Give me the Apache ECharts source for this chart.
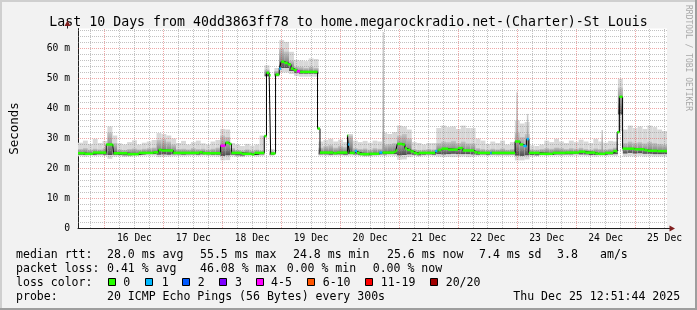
<!DOCTYPE html>
<html><head><meta charset="utf-8">
<script src="https://cdn.jsdelivr.net/npm/echarts@6/dist/echarts.min.js"></script>
<style>html,body{margin:0;padding:0;background:#f2f2f2}#c{width:697px;height:310px}</style>
</head><body><div id="c"></div>
<script>
// ---------- data ----------
// x values are hours since Dec 15 00:00
const dayLabels = ['16 Dec','17 Dec','18 Dec','19 Dec','20 Dec','21 Dec','22 Dec','23 Dec','24 Dec','25 Dec'];
const dayLabelHours = [36,60,84,108,132,156,180,204,228,252];
const yTickValues = [0,10,20,30,40,50,60];
const yTickLabels = ['0','10 m','20 m','30 m','40 m','50 m','60 m'];

const smokeHours = [14,16,18,20,22,24,26,28,30,32, 34,36,38,40,42,44,46,48,50,52,
  54,56,58,60,62,64,66,68,70,72, 74,76,78,80,82,84,86,88,90,92,
  94,96,98,100,102,104,106,108,110,112, 114,116,118,120,122,124,126,128,130,132,
  134,136,138,140,142,144,146,148,150,152, 154,156,158,160,162,164,166,168,170,172,
  174,176,178,180,182,184,186,188,190,192, 194,196,198,200,202,204,206,208,210,212,
  214,216,218,220,222,224,226,228,230,232, 234,236,238,240,242,244,246,248,250,252];
const smokeMax = [28.6,29.3,28.2,29.9,28.5,29.2,34.0,31.0,28.4,28.0,
  28.8,29.4,28.0,28.6,29.0,29.5,31.8,31.5,31.0,30.0,
  28.5,29.2,28.0,28.8,29.3,28.4,28.0,29.0,29.5,33.2,
  33.0,28.5,28.0,27.5,28.2,27.6,28.0,31.0,54.4,26.5,
  53.5,62.8,62.2,58.9,56.2,56.0,55.8,56.7,56.5,29.0,
  29.5,29.9,29.0,29.6,28.8,31.5,29.3,28.8,29.2,28.6,
  29.3,29.0,32.0,31.5,32.1,34.3,34.0,33.0,28.8,28.5,
  28.0,28.5,28.5,33.5,34.3,33.8,34.0,33.2,34.3,33.5,
  33.5,30.0,29.3,28.2,29.0,28.5,29.3,28.0,28.8,36.0,
  35.0,35.5,27.7,27.5,28.0,29.3,28.8,29.9,29.0,28.5,
  29.3,28.8,29.6,29.0,28.5,29.9,29.0,28.6,29.2,29.0,
  49.9,33.0,34.3,33.5,34.0,33.2,34.3,33.8,33.0,32.5];
const smokeDarkHigh = [26.5,26.8,26.3,26.6,26.4,26.8,32.0,28.5,26.4,26.2,
  26.5,26.7,26.4,26.6,26.8,27.0,29.5,29.8,29.0,28.0,
  26.5,26.6,26.4,26.8,26.5,26.6,26.3,26.6,27.0,31.0,
  30.5,26.8,26.2,26.0,26.4,26.0,26.3,26.0,53.0,25.8,
  52.5,60.0,59.0,56.0,54.0,53.8,53.5,53.9,53.5,27.0,
  27.5,27.8,27.0,27.6,27.2,31.0,26.8,26.5,26.7,26.3,
  26.8,26.6,28.0,28.2,28.5,31.0,31.5,30.0,26.5,26.2,
  26.3,26.5,26.4,28.5,29.0,28.8,29.2,28.5,29.0,28.4,
  28.4,26.8,26.5,26.3,26.6,26.4,26.7,26.3,26.5,32.0,
  30.5,31.5,26.4,26.3,26.5,26.8,26.6,27.0,26.8,26.5,
  26.8,26.6,26.9,26.5,26.3,26.7,26.5,26.4,26.6,27.0,
  47.0,28.5,29.0,28.6,28.8,28.4,28.9,28.5,28.2,28.0];
const smokeDarkLow = [24.6,24.5,24.7,24.6,24.7,24.6,24.5,24.6,24.5,24.4,
  24.4,24.5,24.6,24.7,24.8,24.8,24.6,24.7,24.6,24.7,
  24.7,24.6,24.7,24.7,24.6,24.7,24.7,24.6,24.6,24.2,
  24.4,24.6,24.4,24.3,24.6,24.6,24.5,24.7,50.8,24.6,
  51.0,53.5,53.5,52.5,51.8,51.6,51.6,51.6,51.6,24.7,
  24.7,24.6,24.7,24.7,24.6,24.8,24.7,24.6,24.4,24.4,
  24.5,24.7,24.7,24.8,24.8,24.4,24.5,24.7,24.6,24.4,
  24.6,24.7,24.6,24.8,24.7,24.8,24.9,24.8,24.8,24.8,
  24.7,24.6,24.7,24.6,24.7,24.7,24.7,24.7,24.7,24.3,
  24.2,24.4,24.5,24.4,24.5,24.6,24.5,24.7,24.7,24.7,
  24.7,24.8,24.7,24.7,24.5,24.5,24.6,24.6,24.7,24.8,
  38.0,25.0,25.2,25.0,25.1,24.9,24.9,24.8,24.8,24.8];
const smokeMin = [24.2,24.0,24.3,24.2,24.3,24.2,23.2,24.0,24.1,23.9,
  24.0,24.1,24.2,24.3,24.3,24.3,23.8,23.9,24.0,24.1,
  24.2,24.1,24.2,24.3,24.2,24.3,24.2,24.1,24.0,22.7,
  22.8,24.1,23.9,23.8,24.1,24.2,24.0,24.2,50.5,24.2,
  50.5,52.0,52.0,51.5,50.8,50.6,50.6,50.6,50.6,24.3,
  24.3,24.2,24.3,24.3,24.2,24.3,24.3,24.2,24.0,24.0,
  24.1,24.3,24.2,24.3,24.2,22.9,23.0,23.8,24.2,24.0,
  24.2,24.3,24.2,24.0,23.8,23.9,23.8,23.9,24.0,23.8,
  23.9,24.2,24.3,24.2,24.3,24.2,24.3,24.2,24.3,22.7,
  22.7,23.0,24.0,24.1,24.3,24.2,24.3,24.3,24.2,24.3,
  24.2,24.3,24.3,24.2,24.1,24.0,24.2,24.2,24.3,24.2,
  32.5,24.0,24.1,24.0,24.2,24.0,24.1,24.0,24.0,24.0];

// single narrow smoke spikes
const spikeHours = [137.4, 191.9, 196.2, 226.6];
const spikeLow   = [26.0, 30.0, 29.0, 25.6];
const spikeHigh  = [65.5, 45.4, 38.2, 32.8];

// median rtt (value holds from its hour until the next one) and loss class
const medianHours = [13.0,15.8,19.1,24.5,27.1,27.5,33.1,37.8,43.8,45.8,47.1,51.8,62.5,63.8,
  71.1,73.1,74.5,75.5,79.8,83.8,84.9,88.9,89.8,90.9,91.5,93.5,95.0,95.8,97.1,98.5,99.8,
  100.9,102.2,103.5,110.6,111.6,117.1,118.5,122.8,123.1,123.6,125.8,126.7,127.8,131.8,
  135.8,137.1,141.8,142.5,143.1,145.1,146.2,147.1,148.5,149.8,151.1,151.8,158.5,159.5,
  159.8,161.1,163.8,167.8,169.8,174.5,175.8,181.0,181.6,191.1,193.1,194.5,195.8,196.7,
  201.1,206.5,211.8,217.1,219.8,223.8,225.1,227.8,231.1,232.7,233.6,234.9,239.8,243.8,
  245.1,249.1];
const medianValues = [25.1,24.9,25.3,28.0,27.7,25.1,24.8,25.2,25.4,26.2,26.0,25.2,25.4,25.1,
  27.6,28.6,28.2,25.2,24.9,24.7,25.2,30.8,51.9,51.1,25.0,51.3,53.3,55.6,55.2,54.7,53.3,
  52.8,52.4,52.2,33.3,25.3,25.1,25.3,31.0,28.0,25.2,25.8,25.2,24.8,24.9,
  25.3,25.3,25.6,26.0,28.2,28.0,26.7,26.2,25.7,25.2,24.9,25.2,25.8,25.8,
  26.2,26.6,26.3,26.8,26.0,25.4,25.2,25.2,25.2,29.0,28.0,27.5,29.8,25.2,
  24.9,25.2,25.3,25.6,25.3,25.0,24.9,25.2,25.8,32.1,43.9,26.6,26.4,26.1,
  25.9,25.8];
const medianLoss = [0,0,0,0,0,0,0,0,0,0,0,0,0,0,
  4,0,0,0,0,0,0,0,0,0,0,0,1,0,0,0,0,
  0,4,0,0,0,0,0,0,1,0,1,0,0,0,
  1,0,0,0,0,0,0,0,0,0,0,0,1,0,
  0,0,0,0,0,0,0,1,0,0,0,1,1,0,
  0,0,0,0,0,0,0,0,0,0,0,0,0,0,
  0,0];

const lossLabels = ['0','1','2','3','4-5','6-10','11-19','20/20'];
const lossColors = ['#26ff00','#00b8ff','#0059ff','#7e00ff','#ff00ff','#ff5500','#ff0000','#a10000'];

const titleText = 'Last 10 Days from 40dd3863ff78 to home.megarockradio.net-(Charter)-St Louis';
const rttStats = ['28.0 ms avg','55.5 ms max','24.8 ms min','25.6 ms now','7.4 ms sd','3.8','am/s'];
const lossStats = ['0.41 % avg','46.08 % max','0.00 % min','0.00 % now'];
const probeText = '20 ICMP Echo Pings (56 Bytes) every 300s';
const dateText = 'Thu Dec 25 12:51:44 2025';

// ---------- layout / style ----------
const X_MIN = 13, X_MAX = 253, Y_MAX = 200 / 3;
const Y_GRID_STEP = 2, Y_MAJOR_STEP = 10, X_GRID_STEP = 6, X_MAJOR_STEP = 24;
const SMOKE_HALF = 1, SPIKE_HALF = 0.3;
const FONT = 'DejaVu Sans Mono';
const GRID_MINOR = 'rgba(143,143,143,0.55)';
const GRID_MAJOR = 'rgba(222,79,79,0.5)';

const chart = echarts.init(document.getElementById('c'), null, {renderer: 'canvas', width: 697, height: 310});

// grid line items: [vertical?, value, major?]
const gridData = [];
for (let v = Y_GRID_STEP; v < Y_MAX; v += Y_GRID_STEP) gridData.push([0, v, v % Y_MAJOR_STEP === 0 ? 1 : 0]);
for (let h = 18; h < X_MAX; h += X_GRID_STEP) gridData.push([1, h, h % X_MAJOR_STEP === 0 ? 1 : 0]);

const smokeData = smokeHours.map((h, i) => [h, smokeMin[i], smokeDarkLow[i], smokeDarkHigh[i], smokeMax[i]]);
const spikeData = spikeHours.map((h, i) => [h, spikeLow[i], spikeHigh[i]]);
const stepData = medianHours.map((h, i) => [h, medianValues[i]]);
stepData.push([X_MAX, medianValues[medianValues.length - 1]]);
const segData = medianHours.map((h, i) => [h, i + 1 < medianHours.length ? medianHours[i + 1] : X_MAX, medianValues[i], medianLoss[i]]);

function crisp(v) { return Math.round(v - 0.5) + 0.5; }
function gridItem(params, api) {
  const vertical = api.value(0) === 1, v = api.value(1), major = api.value(2) === 1;
  let shape;
  if (vertical) {
    const x = crisp(api.coord([v, 0])[0]);
    // start/end on whole pixels so the 1px dots stay sharp
    shape = {x1: x, y1: Math.floor(api.coord([v, 0])[1]), x2: x, y2: Math.floor(api.coord([v, Y_MAX])[1])};
  } else {
    const y = crisp(api.coord([X_MIN, v])[1]);
    shape = {x1: Math.round(api.coord([X_MIN, v])[0]), y1: y, x2: Math.round(api.coord([X_MAX, v])[0]), y2: y};
  }
  return {type: 'line', shape: shape, style: {stroke: major ? GRID_MAJOR : GRID_MINOR, lineWidth: 1, lineDash: [1, 1]}};
}
function smokeItem(params, api) {
  const t = api.value(0);
  const x0 = api.coord([t - SMOKE_HALF, 0])[0];
  const x1 = api.coord([t + SMOKE_HALF, 0])[0];
  const yMin = api.coord([t, api.value(1)])[1];
  const yLo = api.coord([t, api.value(2)])[1];
  const yHi = api.coord([t, api.value(3)])[1];
  const yMax = api.coord([t, api.value(4)])[1];
  return {type: 'group', children: [
    {type: 'rect', shape: {x: x0, y: yMax, width: x1 - x0, height: yMin - yMax}, style: {fill: '#d8d8d8'}},
    {type: 'rect', shape: {x: x0, y: yHi, width: x1 - x0, height: yLo - yHi},
     style: {fill: new echarts.graphic.LinearGradient(0, 0, 0, 1, [{offset: 0, color: '#c4c4c4'}, {offset: 0.6, color: '#8c8c8c'}, {offset: 1, color: '#4c4c4c'}])}}
  ]};
}
function spikeItem(params, api) {
  const t = api.value(0);
  const x0 = api.coord([t - SPIKE_HALF, 0])[0];
  const x1 = api.coord([t + SPIKE_HALF, 0])[0];
  const yLo = api.coord([t, api.value(1)])[1];
  const yHi = api.coord([t, api.value(2)])[1];
  return {type: 'rect', shape: {x: x0, y: yHi, width: x1 - x0, height: yLo - yHi},
    style: {fill: new echarts.graphic.LinearGradient(0, 0, 0, 1, [{offset: 0, color: '#d0d0d0'}, {offset: 1, color: '#9a9a9a'}])}};
}
function segItem(params, api) {
  const p0 = api.coord([api.value(0), api.value(2)]);
  const p1 = api.coord([api.value(1), api.value(2)]);
  return {type: 'rect', shape: {x: p0[0], y: p0[1] - 1.25, width: p1[0] - p0[0], height: 2.5},
    style: {fill: lossColors[api.value(3)]}};
}

// legend graphics
const graphics = [];
function txt(x, y, s, size, extra) {
  graphics.push(Object.assign({type: 'text', x: x, y: y, z: 100, silent: true,
    style: {text: s, fill: '#000', font: size + 'px "' + FONT + '"', textVerticalAlign: 'middle'}}, extra || {}));
}
// frame
graphics.push({type: 'rect', shape: {x: 0, y: 0, width: 697, height: 2}, style: {fill: '#cfcfcf'}, z: 100});
graphics.push({type: 'rect', shape: {x: 0, y: 0, width: 2, height: 310}, style: {fill: '#cfcfcf'}, z: 100});
graphics.push({type: 'rect', shape: {x: 0, y: 308, width: 697, height: 2}, style: {fill: '#9e9e9e'}, z: 100});
graphics.push({type: 'rect', shape: {x: 695, y: 0, width: 2, height: 310}, style: {fill: '#9e9e9e'}, z: 100});
// axis extensions and arrows
graphics.push({type: 'line', shape: {x1: 67.5, y1: 28.5, x2: 67.5, y2: 23}, style: {stroke: '#1f1f1f', lineWidth: 1}, z: 100});
graphics.push({type: 'line', shape: {x1: 667, y1: 228.5, x2: 672, y2: 228.5}, style: {stroke: '#1f1f1f', lineWidth: 1}, z: 100});
graphics.push({type: 'polygon', shape: {points: [[67.5, 20.5], [64.5, 26], [70.5, 26]]}, style: {fill: '#801f1f'}, z: 101});
graphics.push({type: 'polygon', shape: {points: [[675, 228.5], [669.5, 225.5], [669.5, 231.5]]}, style: {fill: '#801f1f'}, z: 101});
// watermark
graphics.push({type: 'text', x: 688, y: 5, rotation: -Math.PI / 2, z: 100, silent: true,
  style: {text: 'RRDTOOL / TOBI OETIKER', fill: '#a8a8a8', font: '8px "' + FONT + '"', textVerticalAlign: 'middle'}});
// legend rows
const LF = 11.55;
txt(16, 254.5, 'median rtt:', LF);
[107, 200, 293, 387, 479, 557, 600].forEach((x, i) => txt(x, 254.5, rttStats[i], LF));
txt(16, 268.5, 'packet loss:', LF);
[107, 200, 286.7, 372.7].forEach((x, i) => txt(x, 268.5, lossStats[i], LF));
txt(16, 282.5, 'loss color:', LF);
const boxX = [108.5, 145.5, 182.5, 219.5, 256.5, 307.5, 365.5, 430.5];
const boxLabelX = [123.3, 161.7, 197.7, 235, 271, 322.7, 380.7, 445.7];
lossLabels.forEach((l, i) => {
  graphics.push({type: 'rect', shape: {x: boxX[i], y: 278.5, width: 7, height: 7}, z: 100,
    style: {fill: lossColors[i], stroke: '#000', lineWidth: 1}});
  txt(boxLabelX[i], 282.5, l, LF);
});
txt(16, 296.5, 'probe:', LF);
txt(107, 296.5, probeText, LF);
txt(513.3, 296.5, dateText, LF);

chart.setOption({
  animation: false,
  backgroundColor: '#f2f2f2',
  title: {text: titleText, left: 'center', top: 11,
    textStyle: {fontFamily: FONT, fontSize: 13.25, fontWeight: 'normal', color: '#000'}},
  grid: {left: 67, top: 28.5, width: 600, height: 200, show: true, backgroundColor: '#ffffff', borderWidth: 0, containLabel: false},
  xAxis: {type: 'value', min: X_MIN, max: X_MAX,
    axisLine: {show: true, onZero: false, lineStyle: {color: '#1f1f1f', width: 1}},
    axisTick: {show: false}, splitLine: {show: false},
    axisLabel: {customValues: dayLabelHours, margin: 5, color: '#000', fontFamily: FONT, fontSize: 9.7,
      formatter: v => dayLabels[dayLabelHours.indexOf(v)]}},
  yAxis: {type: 'value', min: 0, max: Y_MAX,
    name: 'Seconds', nameLocation: 'middle', nameGap: 57, nameRotate: 90,
    nameTextStyle: {fontFamily: FONT, fontSize: 12.5, color: '#000'},
    axisLine: {show: true, lineStyle: {color: '#1f1f1f', width: 1}},
    axisTick: {show: false}, splitLine: {show: false},
    axisLabel: {customValues: yTickValues, margin: 8, color: '#000', fontFamily: FONT, fontSize: 9.7,
      formatter: v => yTickLabels[yTickValues.indexOf(v)]}},
  graphic: {elements: graphics},
  series: [
    {type: 'custom', name: 'smoke', renderItem: smokeItem, data: smokeData, encode: {x: 0, y: [1, 4]}, z: 2, silent: true},
    {type: 'custom', name: 'spikes', renderItem: spikeItem, data: spikeData, encode: {x: 0, y: [1, 2]}, z: 2, silent: true},
    {type: 'custom', name: 'grid', renderItem: gridItem, data: gridData, encode: {x: 1, y: 1}, z: 3, silent: true},
    {type: 'line', name: 'median', data: stepData, step: 'end', showSymbol: false, z: 4, silent: true,
      lineStyle: {color: '#000', width: 1}},
    {type: 'custom', name: 'loss', renderItem: segItem, data: segData, encode: {x: [0, 1], y: 2}, z: 5, silent: true}
  ]
});
</script>
</body></html>
